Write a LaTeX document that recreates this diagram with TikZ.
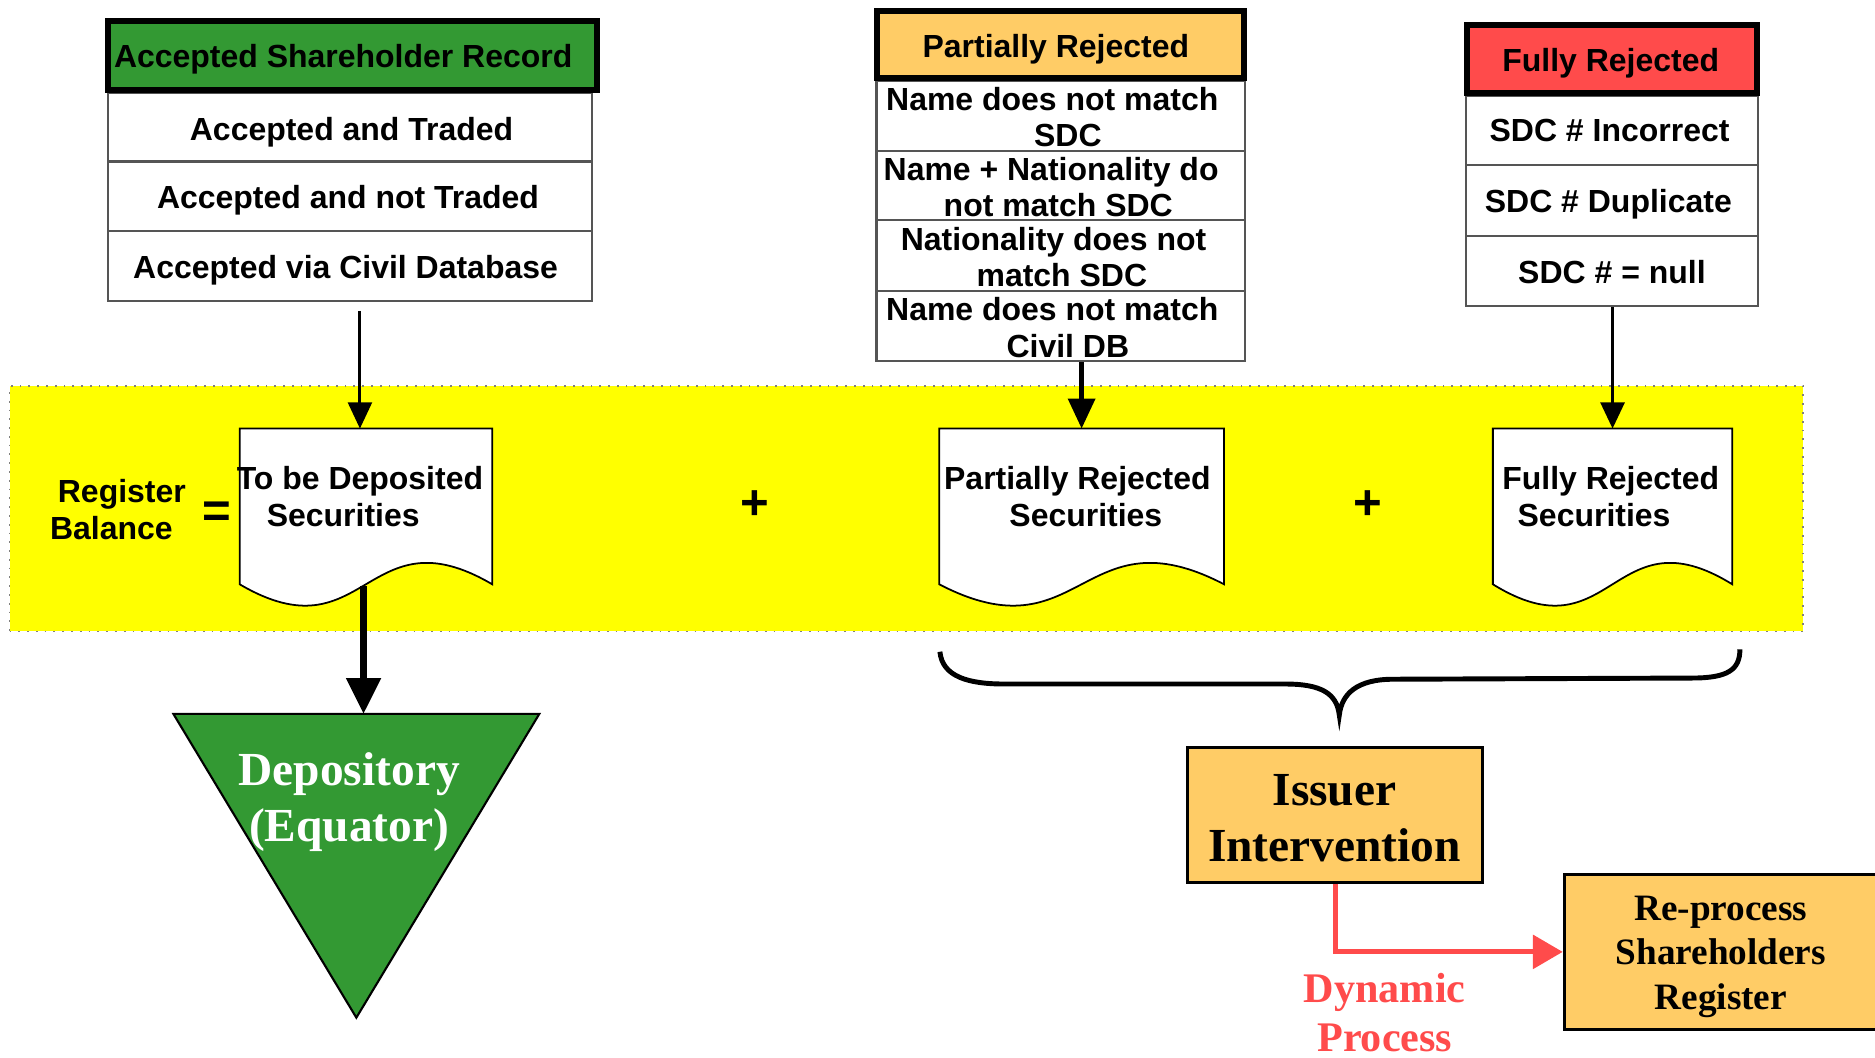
\documentclass[tikz,border=0pt]{standalone}
\usepackage{fontspec}
\setmainfont{Liberation Sans}
\newfontfamily\serifbold{Liberation Serif}
\usetikzlibrary{fit,calc,arrows.meta}
\definecolor{hdrgreen}{HTML}{339933}
\definecolor{hdrorange}{HTML}{FFCC66}
\definecolor{hdrred}{HTML}{FF4B4B}
\definecolor{bandyellow}{HTML}{FFFF00}
\definecolor{rowgray}{HTML}{555555}
\begin{document}
\begin{tikzpicture}[x=0.011958cm,y=-0.011958cm,
  lbl/.style={font=\bfseries\fontsize{9.1}{10.2}\selectfont},
  hdr/.style={draw=black, line width=1.7pt, inner sep=0pt},
  rowbox/.style={draw=rowgray, line width=0.6pt, inner sep=0pt, fill=white},
  rowtxt/.style={lbl, inner sep=0pt, text height=6.6pt, text depth=0pt},
  docbox/.style={inner sep=0pt},
  doctxt/.style={font=\bfseries\fontsize{9.1}{10.5}\selectfont, align=center, inner sep=0pt},
  opsign/.style={font=\bfseries\fontsize{14}{14}\selectfont, inner sep=0pt},
  serifbig/.style={font=\serifbold\bfseries\fontsize{13.5}{16}\selectfont, align=center, inner sep=0pt},
  thinarrow/.style={draw=black, -{Triangle[length=7.5pt,width=6.8pt]}},
]
\useasboundingbox (0,0) rectangle (1568,884);

% yellow band
\node[fit={(8,323)(1508,528)}, inner sep=0pt, fill=bandyellow, draw=gray, dotted, line width=0.5pt] (band) {};

% left table
\node[rowbox, fit={(90,78)(495,135)}] (l1) {};
\node[rowbox, fit={(90,135)(495,193)}] (l2) {};
\node[rowbox, fit={(90,193)(495,252)}] (l3) {};
\node[hdr, fill=hdrgreen, fit={(90.5,17.5)(499.5,75.5)}] (lh) {};
\node[rowtxt] (lht) at (287,47) {Accepted Shareholder Record};
\node[rowtxt] (l1t) at (294,108) {Accepted and Traded};
\node[rowtxt] (l2t) at (291,165) {Accepted and not Traded};
\node[rowtxt] (l3t) at (289,223) {Accepted via Civil Database};

% middle table
\node[rowbox, fit={(733,68)(1041,126)}] (m1) {};
\node[rowbox, fit={(733,126)(1041,184)}] (m2) {};
\node[rowbox, fit={(733,184)(1041,243)}] (m3) {};
\node[rowbox, fit={(733,243)(1041,302)}] (m4) {};
\node[hdr, fill=hdrorange, fit={(733.5,9.5)(1040.5,65.5)}] (mh) {};
\node[rowtxt] (mht) at (883,38) {Partially Rejected};
\node[rowtxt] (m1a) at (880,83) {Name does not match};
\node[rowtxt] (m1b) at (893,113) {SDC};
\node[rowtxt] (m2a) at (879,141) {Name + Nationality do};
\node[rowtxt] (m2b) at (885,171) {not match SDC};
\node[rowtxt] (m3a) at (881,200) {Nationality does not};
\node[rowtxt] (m3b) at (888,230) {match SDC};
\node[rowtxt] (m4a) at (880,258) {Name does not match};
\node[rowtxt] (m4b) at (893,289) {Civil DB};

% right table
\node[rowbox, fit={(1226,80)(1470,138)}] (r1) {};
\node[rowbox, fit={(1226,138)(1470,197)}] (r2) {};
\node[rowbox, fit={(1226,197)(1470,256)}] (r3) {};
\node[hdr, fill=hdrred, fit={(1226.5,20.5)(1469.5,77.5)}] (rh) {};
\node[rowtxt] (rht) at (1347,50) {Fully Rejected};
\node[rowtxt] (r1t) at (1346,109) {SDC \# Incorrect};
\node[rowtxt] (r2t) at (1345,168) {SDC \# Duplicate};
\node[rowtxt] (r3t) at (1348,227) {SDC \# = null};

% document shapes
\node[docbox, fit={(201,359)(411,488)}] (d1) {};
\node[docbox, fit={(786,359)(1023,488)}] (d2) {};
\node[docbox, fit={(1249,359)(1448,488)}] (d3) {};
\foreach \dd in {d1,d2,d3}{
  \draw[fill=white, line width=0.5pt] (\dd.north west) -- (\dd.north east) -- (\dd.south east)
    .. controls ($(\dd.south)+(0,-62)$) and ($(\dd.south)+(0,62)$) .. (\dd.south west) -- cycle;
}
\node[doctxt] (d1t) at (301,415) {To be Deposited\\Securities\rule{9.5pt}{0pt}};
\node[doctxt] (d2t) at (901,415) {Partially Rejected\\\rule{4.8pt}{0pt}Securities};
\node[doctxt] (d3t) at (1347,415) {Fully Rejected\\Securities\rule{9.5pt}{0pt}};

% register balance
\node[doctxt] (reg) at (97.5,426) {\rule{3pt}{0pt}Register\\Balance\rule{3pt}{0pt}};
\node[opsign] (eq) at (181,430) {=};
\node[opsign] (plus1) at (631,422) {+};
\node[opsign] (plus2) at (1144,422) {+};

% connectors into documents
\coordinate (c1) at (301,260);
\draw[thinarrow, line width=0.85pt] (c1) -- (c1 |- d1.north);
\draw[draw=black, line width=1.4pt, -{Triangle[length=8.5pt,width=7.5pt]}] (m4.south -| d2.north) -- (d2.north);
\draw[thinarrow, line width=1pt] (r3.south -| d3.north) -- (d3.north);

% depository triangle
\draw[fill=hdrgreen, line width=0.6pt] (145,597) -- (451,597) -- (298,851) -- cycle;
\coordinate (tri) at (298,597);
\node[serifbig, text=white] (dep) at (292,671) {Depository\\(Equator)};
\coordinate (c2) at (304,490);
\draw[draw=black, line width=2pt, -{Triangle[length=10.2pt,width=9.5pt]}] (c2) -- (c2 |- tri);

% brace
\draw[line width=1.4pt] (786,545) .. controls (788,566) and (810,572) .. (840,572) -- (1075,572)
  .. controls (1105,572) and (1118,580) .. (1120,598)
  .. controls (1122,580) and (1135,568) .. (1165,568) -- (1415,567)
  .. controls (1445,567) and (1455,560) .. (1455,543);

% issuer intervention and re-process
\node[fit={(993,625)(1240,738)}, draw=black, line width=0.8pt, fill=hdrorange, inner sep=0pt] (iss) {};
\node[serifbig] (isst) at (1116,684) {Issuer\\Intervention};
\node[fit={(1308,731)(1578,861)}, draw=black, line width=0.8pt, fill=hdrorange, inner sep=0pt] (rep) {};
\node[font=\serifbold\bfseries\fontsize{10.6}{12.6}\selectfont, align=center, inner sep=0pt] (rept) at (1439,800) {Re-process\\Shareholders\\Register};
\draw[draw=hdrred, line width=1.4pt, -{Triangle[length=8.5pt,width=9.5pt]}] (iss.south) |- (rep.west);
\node[font=\serifbold\bfseries\fontsize{12}{14}\selectfont, text=hdrred, align=center, inner sep=0pt] (dyn) at (1158,847) {Dynamic\\Process};
\end{tikzpicture}
\end{document}
